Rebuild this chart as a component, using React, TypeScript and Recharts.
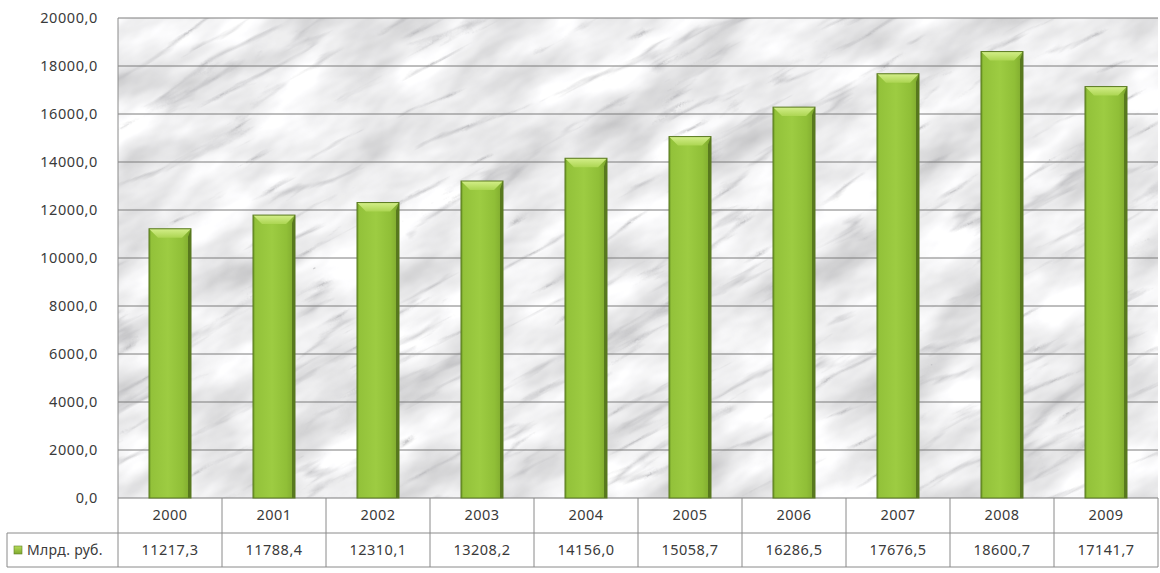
import React from "react";
import { BarChart, Bar, XAxis, YAxis, CartesianGrid } from "recharts";

const years = ["2000", "2001", "2002", "2003", "2004", "2005", "2006", "2007", "2008", "2009"];
const values = [11217.3, 11788.4, 12310.1, 13208.2, 14156.0, 15058.7, 16286.5, 17676.5, 18600.7, 17141.7];
const yTicks = [0, 2000, 4000, 6000, 8000, 10000, 12000, 14000, 16000, 18000, 20000];
const seriesName = "Млрд. руб.";

const data = years.map((y, i) => ({ year: y, value: values[i] }));

const FONT = "'Noto Sans', sans-serif";
const TEXT = "#3a3a3a";
const BORDER = "#8a8a8a";

const fmt = (v: number) => v.toFixed(1).replace(".", ",");

const BarShape = (props: any) => {
  const { x, y, width, height } = props;
  if (!height || height <= 0) return null;
  const b = Math.min(9, width / 4);
  return (
    <g>
      <rect x={x} y={y} width={width} height={height} fill="url(#barGrad)" />
      <polygon
        points={`${x},${y} ${x + width},${y} ${x + width - b},${y + b} ${x + b},${y + b}`}
        fill="url(#bevelGrad)"
      />
      <polygon
        points={`${x + width},${y} ${x + width},${y + height} ${x + width - 3},${y + height} ${x + width - 3},${y + b - 1}`}
        fill="#4d6b1a"
        opacity={0.8}
      />
      <rect x={x} y={y} width={width} height={height} fill="none" stroke="#58781f" strokeWidth={1} />
    </g>
  );
};

const TableTick = (props: any) => {
  const { x, y, payload, index, width, visibleTicksCount } = props;
  const n = visibleTicksCount || years.length;
  const cw = (width || 1040) / n;
  const left = x - cw / 2;
  const right = x + cw / 2;
  const r1 = y;
  const r2 = y + 35;
  const r3 = y + 69;
  const val = values[index];
  return (
    <g>
      <line x1={left} y1={r2} x2={right} y2={r2} stroke={BORDER} />
      <line x1={left} y1={r3} x2={right} y2={r3} stroke={BORDER} />
      <line x1={right} y1={r1} x2={right} y2={r3} stroke={BORDER} />
      {index === 0 && (
        <g>
          <line x1={left} y1={r1} x2={left} y2={r3} stroke={BORDER} />
          <line x1={7} y1={r2} x2={left} y2={r2} stroke={BORDER} />
          <line x1={7} y1={r3} x2={left} y2={r3} stroke={BORDER} />
          <line x1={7} y1={r2} x2={7} y2={r3} stroke={BORDER} />
          <rect x={14} y={r2 + 13} width={8} height={8} fill="url(#keyGrad)" stroke="#5f7f25" strokeWidth={0.6} />
          <text x={27} y={r2 + 22} fontFamily={FONT} fontSize={14} fill={TEXT} letterSpacing={0.3}>
            {seriesName}
          </text>
        </g>
      )}
      <text x={x} y={r1 + 22} textAnchor="middle" fontFamily={FONT} fontSize={14.5} fill={TEXT} letterSpacing={0.5}>
        {payload.value}
      </text>
      <text x={x} y={r2 + 22} textAnchor="middle" fontFamily={FONT} fontSize={14.5} fill={TEXT} letterSpacing={0.5}>
        {val !== undefined ? fmt(val) : ""}
      </text>
    </g>
  );
};

export default function App() {
  return (
    <div style={{ position: "absolute", left: 0, top: 0, width: 1160, height: 573, background: "#fff" }}>
      <BarChart
        width={1160}
        height={573}
        data={data}
        margin={{ top: 18, right: 2, bottom: 0, left: 0 }}
        barCategoryGap={0}
      >
        <defs>
          <filter id="marbleF" filterUnits="userSpaceOnUse" x={0} y={0} width={2400} height={2400}>
            <feTurbulence type="fractalNoise" baseFrequency="0.01 0.022" numOctaves={4} seed={11} result="n" />
            <feColorMatrix
              in="n"
              type="matrix"
              values="0.7 0 0 0 0.5  0.7 0 0 0 0.5  0.7 0 0 0 0.51  0 0 0 0 1"
              result="base"
            />
            <feTurbulence type="turbulence" baseFrequency="0.005 0.028" numOctaves={4} seed={5} result="t" />
            <feColorMatrix
              in="t"
              type="matrix"
              values="0 0 0 0 0.48  0 0 0 0 0.48  0 0 0 0 0.5  -4.5 0 0 0 0.8"
              result="veins"
            />
            <feComposite in="veins" in2="base" operator="over" />
          </filter>
          <pattern
            id="marble"
            patternUnits="userSpaceOnUse"
            x={0}
            y={0}
            width={2400}
            height={2400}
            patternTransform="translate(-600,-600) rotate(-28)"
          >
            <rect x={0} y={0} width={2400} height={2400} fill="#e6e6e6" filter="url(#marbleF)" />
          </pattern>
          <linearGradient id="barGrad" x1="0" y1="0" x2="1" y2="0">
            <stop offset="0%" stopColor="#6e9a26" />
            <stop offset="6%" stopColor="#93c23a" />
            <stop offset="45%" stopColor="#9dcc42" />
            <stop offset="80%" stopColor="#90bf37" />
            <stop offset="100%" stopColor="#7ea82e" />
          </linearGradient>
          <linearGradient id="bevelGrad" x1="0" y1="0" x2="0" y2="1">
            <stop offset="0%" stopColor="#d4ef8a" />
            <stop offset="100%" stopColor="#acd552" />
          </linearGradient>
          <linearGradient id="keyGrad" x1="0" y1="0" x2="0" y2="1">
            <stop offset="0%" stopColor="#b6dc5a" />
            <stop offset="100%" stopColor="#7fa92f" />
          </linearGradient>
        </defs>
        <CartesianGrid
          vertical={false}
          stroke="#7d7d7d"
          strokeWidth={1}
          fill="url(#marble)"
          fillOpacity={1}
        />
        <XAxis
          dataKey="year"
          height={75}
          axisLine={false}
          tickLine={false}
          tickSize={0}
          tickMargin={0}
          interval={0}
          tick={<TableTick />}
        />
        <YAxis
          width={118}
          domain={[0, 20000]}
          ticks={yTicks}
          interval={0}
          axisLine={{ stroke: BORDER }}
          tickLine={false}
          tickSize={6}
          tickMargin={14}
          tickFormatter={fmt}
          tick={{ fontFamily: FONT, fontSize: 14.5, fill: TEXT, letterSpacing: 0.6 }}
        />
        <Bar dataKey="value" barSize={42} isAnimationActive={false} shape={<BarShape />} />
      </BarChart>
    </div>
  );
}
